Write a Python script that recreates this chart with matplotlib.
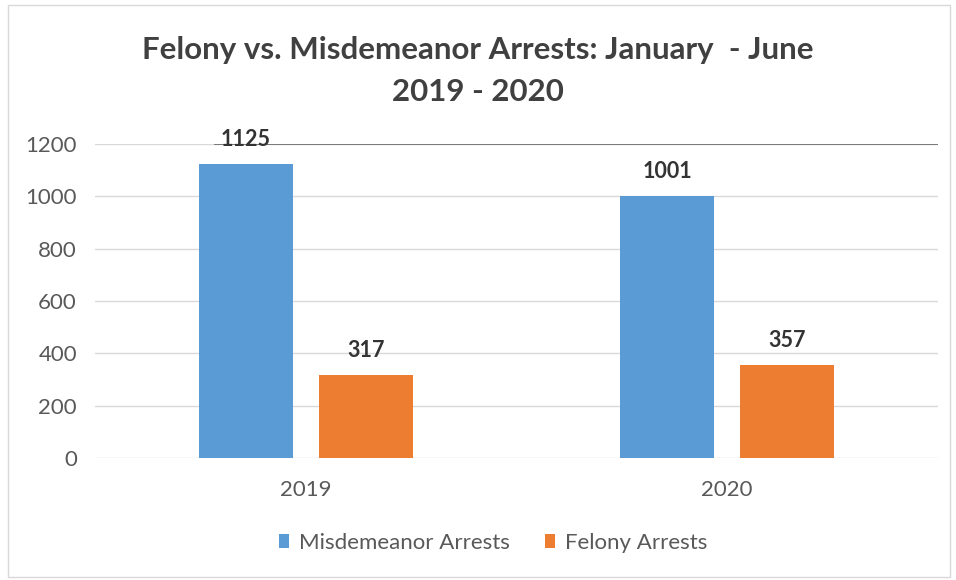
import matplotlib.pyplot as plt
import numpy as np
from matplotlib.patches import Rectangle

years = ["2019", "2020"]
misdemeanor = [1125, 1001]
felony = [317, 357]

plt.rcParams['font.family'] = ['Lato', 'DejaVu Sans']

fig = plt.figure(figsize=(9.56, 5.8), dpi=100)
ax = fig.add_axes([95 / 956, 1 - 458 / 580, 843 / 956, 314 / 580])

x = np.arange(len(years))
w = 0.223
off = 0.142
blue = '#5b9bd5'
orange = '#ed7d31'
b1 = ax.bar(x - off, misdemeanor, w, color=blue, label='Misdemeanor Arrests', zorder=3)
b2 = ax.bar(x + off, felony, w, color=orange, label='Felony Arrests', zorder=3)

for bars in (b1, b2):
    for bar in bars:
        h = bar.get_height()
        ax.annotate(f"{int(h)}", (bar.get_x() + bar.get_width() / 2, h),
                    xytext=(0, 10), textcoords='offset points',
                    ha='center', va='bottom', fontsize=15.5, fontweight='bold',
                    color='#333333', zorder=5)

ax.set_xlim(-0.5, 1.5)
ax.set_ylim(0, 1200)
ax.set_yticks(range(0, 1201, 200))
ax.grid(axis='y', color='#d9d9d9', linewidth=1, zorder=0)
# darker top rule across most of the plot
ax.axhline(1200, xmin=0.142, xmax=1.0, color='#707070', linewidth=1.3, zorder=4)
ax.set_xticks(x)
ax.set_xticklabels(years)
ax.tick_params(axis='both', length=0, labelsize=16, labelcolor='#595959')
ax.tick_params(axis='x', pad=16)
ax.tick_params(axis='y', pad=13)
for s in ax.spines.values():
    s.set_visible(False)

fig.text(0.5, 1 - 50 / 580, "Felony vs. Misdemeanor Arrests: January  - June",
         ha='center', va='center', fontsize=22.5, fontweight='bold', color='#404040')
fig.text(0.5, 1 - 92 / 580, "2019 - 2020",
         ha='center', va='center', fontsize=22.5, fontweight='bold', color='#404040')

fig.legend(handles=[b1, b2], loc='center', bbox_to_anchor=(493 / 956, 1 - 543 / 580),
           ncol=2, frameon=False, fontsize=16, handlelength=0.45, handleheight=0.6,
           columnspacing=1.6, handletextpad=0.45, labelcolor='#595959')

fig.patches.append(Rectangle((8 / 956, 3 / 580), 942 / 956, 572 / 580,
                             transform=fig.transFigure, fill=False,
                             edgecolor='#d9d9d9', linewidth=1))

fig.savefig('out.png', dpi=100)
